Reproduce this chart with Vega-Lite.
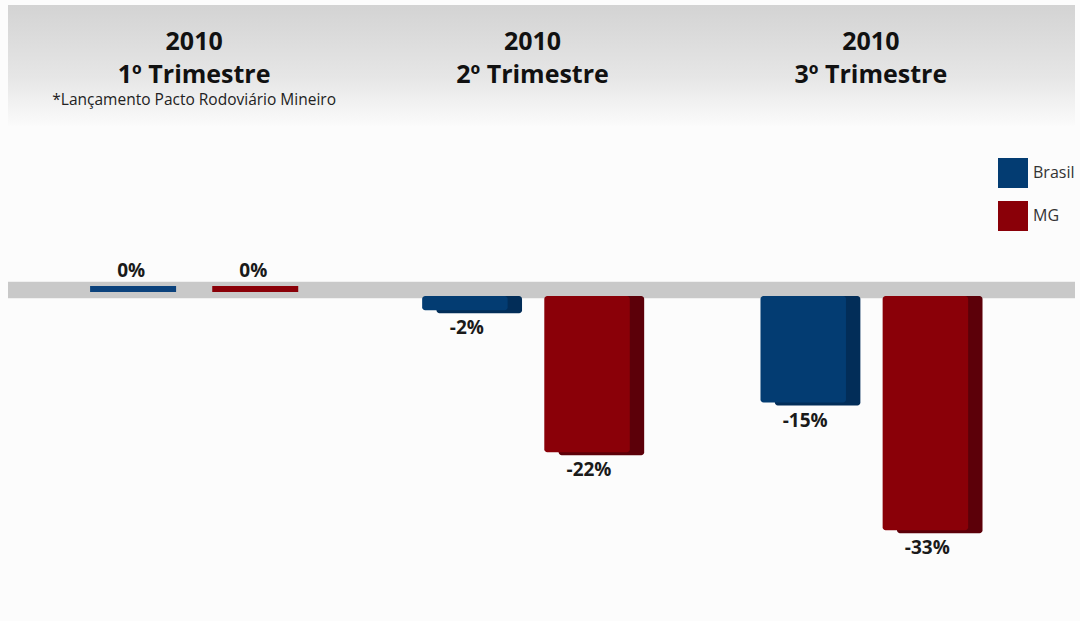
{
  "$schema": "https://vega.github.io/schema/vega-lite/v6.json",
  "width": 1067,
  "height": 621,
  "autosize": {"type": "none"},
  "padding": {"left": 8, "right": 5, "top": 0, "bottom": 0},
  "background": "#fcfcfc",
  "config": {
    "font": "Open Sans",
    "view": {"stroke": null},
    "locale": {"number": {"decimal": ".", "thousands": ",", "grouping": [3], "currency": ["", ""], "minus": "-"}}
  },
  "resolve": {"scale": {"xOffset": "independent"}},
  "datasets": {
    "bars": [
      {"quarter": "1º Trimestre", "series": "Brasil", "value": 0},
      {"quarter": "1º Trimestre", "series": "MG", "value": 0},
      {"quarter": "2º Trimestre", "series": "Brasil", "value": -0.02},
      {"quarter": "2º Trimestre", "series": "MG", "value": -0.22},
      {"quarter": "3º Trimestre", "series": "Brasil", "value": -0.15},
      {"quarter": "3º Trimestre", "series": "MG", "value": -0.33}
    ],
    "headers": [
      {"quarter": "1º Trimestre", "year": "2010", "note": "*Lançamento Pacto Rodoviário Mineiro"},
      {"quarter": "2º Trimestre", "year": "2010", "note": ""},
      {"quarter": "3º Trimestre", "year": "2010", "note": ""}
    ]
  },
  "layer": [
    {
      "data": {"values": [{}]},
      "mark": {
        "type": "rect",
        "fill": {
          "gradient": "linear", "x1": 0, "y1": 0, "x2": 0, "y2": 1,
          "stops": [{"offset": 0, "color": "#d3d3d3"}, {"offset": 0.6, "color": "#e6e6e6"}, {"offset": 1, "color": "#fbfbfb"}]
        }
      },
      "encoding": {
        "x": {"value": 0},
        "x2": {"value": {"expr": "width"}},
        "y": {"datum": 0.41, "type": "quantitative", "scale": {"domain": [-0.4577, 0.4169], "nice": false, "zero": false}, "axis": null},
        "y2": {"datum": 0.24}
      }
    },
    {
      "data": {"values": [{}]},
      "mark": {"type": "rect", "fill": "#c9c9c9"},
      "encoding": {
        "x": {"value": 0},
        "x2": {"value": {"expr": "width"}},
        "y": {"datum": 0.02, "type": "quantitative"},
        "y2": {"datum": -0.003}
      }
    },
    {
      "data": {"name": "bars"},
      "transform": [{"filter": "datum.value < 0"}],
      "mark": {"type": "bar", "yOffset": 3, "cornerRadius": 3},
      "encoding": {
        "x": {"field": "quarter", "type": "nominal", "axis": null,
              "scale": {"paddingInner": 0, "paddingOuter": 0.0768, "align": 0.327}},
        "xOffset": {"field": "series", "type": "nominal", "scale": {"type": "band", "paddingInner": 0.3, "paddingOuter": 0.535, "align": 0.56}},
        "y": {"field": "value", "type": "quantitative", "stack": null},
        "y2": {"datum": 0},
        "color": {"condition": {"test": "datum.series === 'MG'", "value": "#5c0009"}, "value": "#022d58"}
      }
    },
    {
      "data": {"name": "bars"},
      "transform": [{"filter": "datum.value < 0"}],
      "mark": {"type": "bar", "cornerRadius": 3},
      "encoding": {
        "x": {"field": "quarter", "type": "nominal", "axis": null},
        "xOffset": {"field": "series", "type": "nominal", "scale": {"type": "band", "paddingInner": 0.3, "paddingOuter": 0.535, "align": 0.45}},
        "y": {"field": "value", "type": "quantitative", "stack": null},
        "y2": {"datum": 0},
        "color": {
          "field": "series", "type": "nominal",
          "scale": {"domain": ["Brasil", "MG"], "range": ["#033c72", "#8a0008"]},
          "legend": {
            "orient": "none", "legendX": 990, "legendY": 158, "title": null,
            "symbolType": "square", "symbolSize": 900, "symbolStrokeWidth": 0,
            "labelFontSize": 16, "labelColor": "#333333", "labelOffset": 5,
            "rowPadding": 13, "padding": 0,
            "encode": {"symbols": {"update": {"fill": {"signal": "datum.value === 'MG' ? '#d0000b' : '#0b4a8a'"}, "opacity": {"value": 1}}}}
          }
        }
      }
    },
    {
      "data": {"name": "bars"},
      "transform": [{"filter": "datum.value === 0"}],
      "mark": {"type": "tick", "thickness": 6, "yOffset": -7, "size": 86, "opacity": 1},
      "encoding": {
        "x": {"field": "quarter", "type": "nominal", "axis": null},
        "xOffset": {"field": "series", "type": "nominal", "scale": {"type": "band", "paddingInner": 0.3, "paddingOuter": 0.535, "align": 0.5}},
        "y": {"field": "value", "type": "quantitative"},
        "color": {"condition": {"test": "datum.series === 'MG'", "value": "#8a0008"}, "value": "#0b427c"}
      }
    },
    {
      "data": {"name": "bars"},
      "transform": [{"filter": "datum.value < 0"}],
      "mark": {"type": "text", "baseline": "top", "dy": 9, "fontSize": 19, "fontWeight": "bold", "color": "#1a1a1a"},
      "encoding": {
        "x": {"field": "quarter", "type": "nominal", "axis": null},
        "xOffset": {"field": "series", "type": "nominal", "scale": {"type": "band", "paddingInner": 0.3, "paddingOuter": 0.535, "align": 0.465}},
        "y": {"field": "value", "type": "quantitative"},
        "text": {"field": "value", "type": "quantitative", "format": ".0%"}
      }
    },
    {
      "data": {"name": "bars"},
      "transform": [{"filter": "datum.value === 0"}],
      "mark": {"type": "text", "baseline": "bottom", "dy": -15, "fontSize": 19, "fontWeight": "bold", "color": "#1a1a1a"},
      "encoding": {
        "x": {"field": "quarter", "type": "nominal", "axis": null},
        "xOffset": {"field": "series", "type": "nominal", "scale": {"type": "band", "paddingInner": 0.3, "paddingOuter": 0.535, "align": 0.485}},
        "y": {"field": "value", "type": "quantitative"},
        "text": {"field": "value", "type": "quantitative", "format": ".0%"}
      }
    },
    {
      "data": {"name": "headers"},
      "mark": {"type": "text", "baseline": "middle", "fontSize": 25, "fontWeight": "bold", "color": "#111111"},
      "encoding": {
        "x": {"field": "quarter", "type": "nominal", "axis": null},
        "y": {"datum": 0.3577, "type": "quantitative"},
        "text": {"field": "year", "type": "nominal"}
      }
    },
    {
      "data": {"name": "headers"},
      "mark": {"type": "text", "baseline": "middle", "fontSize": 25, "fontWeight": "bold", "color": "#111111"},
      "encoding": {
        "x": {"field": "quarter", "type": "nominal", "axis": null},
        "y": {"datum": 0.3113, "type": "quantitative"},
        "text": {"field": "quarter", "type": "nominal"}
      }
    },
    {
      "data": {"name": "headers"},
      "mark": {"type": "text", "baseline": "middle", "fontSize": 15.5, "color": "#222222"},
      "encoding": {
        "x": {"field": "quarter", "type": "nominal", "axis": null},
        "y": {"datum": 0.276, "type": "quantitative"},
        "text": {"field": "note", "type": "nominal"}
      }
    }
  ]
}
